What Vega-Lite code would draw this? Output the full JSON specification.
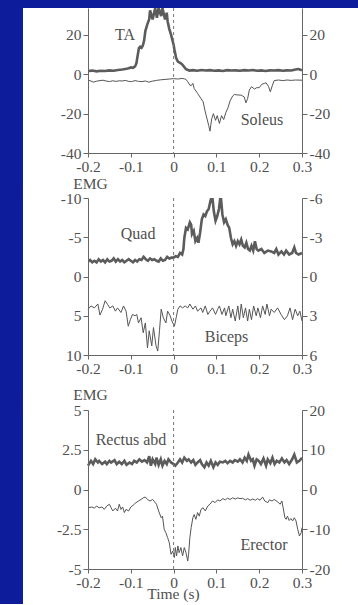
{
  "$schema": "https://vega.github.io/schema/vega-lite/v6.json",
  "background": "#0d1c9a",
  "padding": {"left": 22, "top": 7, "right": 0, "bottom": 0},
  "autosize": {"type": "pad"},
  "datasets": {
    "ta": [
      {"t": -0.2, "v": 1.6}, {"t": -0.19, "v": 1.9}, {"t": -0.18, "v": 1.5}, {"t": -0.17, "v": 1.8}, {"t": -0.16, "v": 1.7},
      {"t": -0.15, "v": 2.0}, {"t": -0.14, "v": 1.8}, {"t": -0.13, "v": 2.2}, {"t": -0.12, "v": 2.4}, {"t": -0.11, "v": 2.8},
      {"t": -0.105, "v": 3.1}, {"t": -0.1, "v": 3.5}, {"t": -0.095, "v": 3.3}, {"t": -0.09, "v": 4.0}, {"t": -0.087, "v": 5.5},
      {"t": -0.084, "v": 9.5}, {"t": -0.081, "v": 13.3}, {"t": -0.078, "v": 14.0}, {"t": -0.075, "v": 13.5}, {"t": -0.072, "v": 14.5},
      {"t": -0.069, "v": 17}, {"t": -0.066, "v": 22}, {"t": -0.062, "v": 25}, {"t": -0.057, "v": 28}, {"t": -0.055, "v": 32.5},
      {"t": -0.049, "v": 27.9}, {"t": -0.043, "v": 33.7}, {"t": -0.039, "v": 28.7}, {"t": -0.035, "v": 33.7}, {"t": -0.029, "v": 29.6},
      {"t": -0.026, "v": 33.7}, {"t": -0.02, "v": 27.9}, {"t": -0.016, "v": 31.3}, {"t": -0.014, "v": 27}, {"t": -0.01, "v": 23},
      {"t": -0.006, "v": 20.2}, {"t": 0.0, "v": 15}, {"t": 0.002, "v": 12.5}, {"t": 0.006, "v": 8.2}, {"t": 0.01, "v": 6.5},
      {"t": 0.017, "v": 5.6}, {"t": 0.021, "v": 4.8}, {"t": 0.029, "v": 2.6}, {"t": 0.037, "v": 1.9}, {"t": 0.045, "v": 2.1},
      {"t": 0.055, "v": 1.8}, {"t": 0.065, "v": 2.2}, {"t": 0.075, "v": 1.9}, {"t": 0.085, "v": 2.1}, {"t": 0.095, "v": 1.8},
      {"t": 0.105, "v": 2.0}, {"t": 0.115, "v": 1.7}, {"t": 0.125, "v": 2.1}, {"t": 0.135, "v": 1.9}, {"t": 0.145, "v": 2.0},
      {"t": 0.155, "v": 1.8}, {"t": 0.165, "v": 2.1}, {"t": 0.175, "v": 1.9}, {"t": 0.185, "v": 2.2}, {"t": 0.195, "v": 1.8},
      {"t": 0.205, "v": 2.0}, {"t": 0.215, "v": 1.7}, {"t": 0.225, "v": 2.0}, {"t": 0.235, "v": 1.9}, {"t": 0.245, "v": 2.1},
      {"t": 0.255, "v": 1.8}, {"t": 0.265, "v": 2.0}, {"t": 0.275, "v": 1.9}, {"t": 0.285, "v": 2.4}, {"t": 0.292, "v": 2.7},
      {"t": 0.3, "v": 2.0}
    ],
    "soleus": [
      {"t": -0.2, "v": -3.0}, {"t": -0.193, "v": -3.4}, {"t": -0.188, "v": -4.0}, {"t": -0.18, "v": -3.5}, {"t": -0.172, "v": -3.2},
      {"t": -0.165, "v": -3.0}, {"t": -0.158, "v": -3.4}, {"t": -0.15, "v": -3.7}, {"t": -0.142, "v": -3.3}, {"t": -0.135, "v": -3.6},
      {"t": -0.127, "v": -3.3}, {"t": -0.12, "v": -3.4}, {"t": -0.113, "v": -3.1}, {"t": -0.105, "v": -3.6}, {"t": -0.098, "v": -3.7},
      {"t": -0.09, "v": -3.2}, {"t": -0.082, "v": -3.6}, {"t": -0.074, "v": -3.7}, {"t": -0.066, "v": -3.4}, {"t": -0.058, "v": -4.0},
      {"t": -0.05, "v": -3.5}, {"t": -0.04, "v": -3.1}, {"t": -0.03, "v": -2.8}, {"t": -0.02, "v": -2.6}, {"t": -0.01, "v": -2.4},
      {"t": 0.0, "v": -2.2}, {"t": 0.01, "v": -2.4}, {"t": 0.02, "v": -2.1}, {"t": 0.025, "v": -2.3}, {"t": 0.029, "v": -2.6},
      {"t": 0.033, "v": -3.8}, {"t": 0.038, "v": -5.5}, {"t": 0.041, "v": -5.8}, {"t": 0.045, "v": -4.6}, {"t": 0.048, "v": -7.2},
      {"t": 0.056, "v": -9.7}, {"t": 0.064, "v": -12.3}, {"t": 0.069, "v": -14.0}, {"t": 0.074, "v": -19.1}, {"t": 0.077, "v": -21.7},
      {"t": 0.082, "v": -26.0}, {"t": 0.085, "v": -28.9}, {"t": 0.089, "v": -22.6}, {"t": 0.093, "v": -20.0}, {"t": 0.098, "v": -23.4},
      {"t": 0.102, "v": -21.0}, {"t": 0.107, "v": -25.0}, {"t": 0.112, "v": -21.0}, {"t": 0.117, "v": -23.0}, {"t": 0.122, "v": -19.5},
      {"t": 0.127, "v": -17.0}, {"t": 0.132, "v": -13.5}, {"t": 0.138, "v": -11.0}, {"t": 0.142, "v": -10.3}, {"t": 0.15, "v": -10.5},
      {"t": 0.158, "v": -10.6}, {"t": 0.165, "v": -11.5}, {"t": 0.169, "v": -14.5}, {"t": 0.173, "v": -12.3}, {"t": 0.177, "v": -8.0},
      {"t": 0.182, "v": -6.3}, {"t": 0.189, "v": -7.5}, {"t": 0.194, "v": -6.8}, {"t": 0.2, "v": -6.8}, {"t": 0.206, "v": -5.1},
      {"t": 0.212, "v": -4.6}, {"t": 0.216, "v": -4.3}, {"t": 0.222, "v": -6.3}, {"t": 0.226, "v": -8.9}, {"t": 0.231, "v": -5.5},
      {"t": 0.235, "v": -3.2}, {"t": 0.245, "v": -2.9}, {"t": 0.255, "v": -3.2}, {"t": 0.265, "v": -2.9}, {"t": 0.275, "v": -3.1},
      {"t": 0.285, "v": -2.9}, {"t": 0.3, "v": -3.0}
    ],
    "quad": [
      {"t": -0.2, "v": -1.9}, {"t": -0.195, "v": -2.1}, {"t": -0.19, "v": -1.8}, {"t": -0.185, "v": -2.0}, {"t": -0.18, "v": -1.8},
      {"t": -0.175, "v": -2.2}, {"t": -0.17, "v": -1.9}, {"t": -0.165, "v": -2.1}, {"t": -0.16, "v": -1.8}, {"t": -0.155, "v": -2.2},
      {"t": -0.15, "v": -1.9}, {"t": -0.145, "v": -2.0}, {"t": -0.14, "v": -2.3}, {"t": -0.135, "v": -1.9}, {"t": -0.13, "v": -2.2},
      {"t": -0.125, "v": -1.9}, {"t": -0.12, "v": -2.1}, {"t": -0.115, "v": -1.8}, {"t": -0.11, "v": -2.0}, {"t": -0.105, "v": -2.2},
      {"t": -0.1, "v": -2.0}, {"t": -0.095, "v": -1.8}, {"t": -0.09, "v": -2.1}, {"t": -0.085, "v": -1.9}, {"t": -0.08, "v": -2.2},
      {"t": -0.075, "v": -2.1}, {"t": -0.07, "v": -2.5}, {"t": -0.065, "v": -2.2}, {"t": -0.06, "v": -2.0}, {"t": -0.055, "v": -2.3},
      {"t": -0.05, "v": -2.1}, {"t": -0.045, "v": -2.2}, {"t": -0.04, "v": -2.0}, {"t": -0.035, "v": -1.9}, {"t": -0.03, "v": -2.3},
      {"t": -0.025, "v": -2.0}, {"t": -0.02, "v": -2.1}, {"t": -0.015, "v": -2.5}, {"t": -0.01, "v": -2.3}, {"t": -0.005, "v": -2.4},
      {"t": 0.0, "v": -2.4}, {"t": 0.005, "v": -2.6}, {"t": 0.01, "v": -2.5}, {"t": 0.015, "v": -3.0}, {"t": 0.02, "v": -2.8},
      {"t": 0.023, "v": -3.5}, {"t": 0.025, "v": -4.9}, {"t": 0.029, "v": -6.2}, {"t": 0.033, "v": -6.0}, {"t": 0.038, "v": -6.9},
      {"t": 0.041, "v": -6.6}, {"t": 0.043, "v": -5.4}, {"t": 0.047, "v": -5.8}, {"t": 0.051, "v": -4.5}, {"t": 0.055, "v": -4.9},
      {"t": 0.058, "v": -4.3}, {"t": 0.062, "v": -5.6}, {"t": 0.066, "v": -7.3}, {"t": 0.07, "v": -7.9}, {"t": 0.074, "v": -7.7},
      {"t": 0.078, "v": -8.3}, {"t": 0.082, "v": -8.6}, {"t": 0.086, "v": -9.6}, {"t": 0.09, "v": -10.4}, {"t": 0.094, "v": -8.3},
      {"t": 0.098, "v": -7.1}, {"t": 0.102, "v": -7.7}, {"t": 0.106, "v": -8.6}, {"t": 0.11, "v": -10.4}, {"t": 0.114, "v": -7.9},
      {"t": 0.118, "v": -6.9}, {"t": 0.122, "v": -7.3}, {"t": 0.126, "v": -6.6}, {"t": 0.13, "v": -6.2}, {"t": 0.134, "v": -4.9},
      {"t": 0.138, "v": -4.1}, {"t": 0.142, "v": -4.5}, {"t": 0.146, "v": -3.9}, {"t": 0.15, "v": -4.5}, {"t": 0.154, "v": -4.1},
      {"t": 0.158, "v": -4.7}, {"t": 0.162, "v": -3.9}, {"t": 0.166, "v": -3.7}, {"t": 0.17, "v": -4.3}, {"t": 0.174, "v": -3.5},
      {"t": 0.178, "v": -3.3}, {"t": 0.182, "v": -3.9}, {"t": 0.186, "v": -3.3}, {"t": 0.19, "v": -4.5}, {"t": 0.194, "v": -3.5},
      {"t": 0.198, "v": -3.3}, {"t": 0.205, "v": -3.5}, {"t": 0.212, "v": -3.0}, {"t": 0.22, "v": -3.3}, {"t": 0.228, "v": -3.2},
      {"t": 0.235, "v": -3.0}, {"t": 0.24, "v": -3.5}, {"t": 0.245, "v": -2.8}, {"t": 0.252, "v": -3.2}, {"t": 0.258, "v": -2.8},
      {"t": 0.263, "v": -3.3}, {"t": 0.27, "v": -2.8}, {"t": 0.277, "v": -3.0}, {"t": 0.282, "v": -3.7}, {"t": 0.286, "v": -3.0},
      {"t": 0.292, "v": -2.8}, {"t": 0.3, "v": -3.0}
    ],
    "biceps": [
      {"t": -0.2, "v": 2.5}, {"t": -0.193, "v": 2.25}, {"t": -0.185, "v": 2.4}, {"t": -0.177, "v": 2.1}, {"t": -0.172, "v": 2.95},
      {"t": -0.166, "v": 2.5}, {"t": -0.16, "v": 1.85}, {"t": -0.154, "v": 2.15}, {"t": -0.149, "v": 2.4}, {"t": -0.142, "v": 2.25},
      {"t": -0.136, "v": 2.65}, {"t": -0.131, "v": 2.4}, {"t": -0.123, "v": 2.75}, {"t": -0.117, "v": 2.25}, {"t": -0.111, "v": 2.65},
      {"t": -0.106, "v": 3.8}, {"t": -0.101, "v": 3.3}, {"t": -0.096, "v": 2.9}, {"t": -0.09, "v": 3.0}, {"t": -0.086, "v": 2.9},
      {"t": -0.082, "v": 3.55}, {"t": -0.076, "v": 3.15}, {"t": -0.071, "v": 4.3}, {"t": -0.066, "v": 3.55}, {"t": -0.061, "v": 5.45},
      {"t": -0.057, "v": 4.15}, {"t": -0.051, "v": 5.3}, {"t": -0.047, "v": 3.9}, {"t": -0.041, "v": 5.3}, {"t": -0.037, "v": 5.7},
      {"t": -0.033, "v": 4.15}, {"t": -0.029, "v": 2.5}, {"t": -0.024, "v": 3.15}, {"t": -0.018, "v": 3.55}, {"t": -0.014, "v": 2.65},
      {"t": -0.008, "v": 3.0}, {"t": -0.004, "v": 3.4}, {"t": 0.002, "v": 3.8}, {"t": 0.006, "v": 3.15}, {"t": 0.01, "v": 2.5},
      {"t": 0.015, "v": 2.25}, {"t": 0.021, "v": 2.4}, {"t": 0.027, "v": 2.25}, {"t": 0.033, "v": 2.4}, {"t": 0.038, "v": 2.1},
      {"t": 0.045, "v": 2.5}, {"t": 0.051, "v": 2.25}, {"t": 0.056, "v": 2.65}, {"t": 0.064, "v": 2.4}, {"t": 0.068, "v": 2.75},
      {"t": 0.074, "v": 2.25}, {"t": 0.08, "v": 2.9}, {"t": 0.085, "v": 2.65}, {"t": 0.091, "v": 2.4}, {"t": 0.098, "v": 2.9},
      {"t": 0.103, "v": 2.5}, {"t": 0.107, "v": 2.25}, {"t": 0.113, "v": 2.9}, {"t": 0.119, "v": 2.4}, {"t": 0.122, "v": 3.0},
      {"t": 0.129, "v": 2.25}, {"t": 0.134, "v": 3.15}, {"t": 0.138, "v": 2.5}, {"t": 0.144, "v": 3.4}, {"t": 0.15, "v": 2.25},
      {"t": 0.154, "v": 3.3}, {"t": 0.158, "v": 2.1}, {"t": 0.163, "v": 3.15}, {"t": 0.168, "v": 2.4}, {"t": 0.173, "v": 3.4},
      {"t": 0.177, "v": 2.5}, {"t": 0.182, "v": 3.3}, {"t": 0.187, "v": 2.25}, {"t": 0.193, "v": 3.0}, {"t": 0.197, "v": 2.4},
      {"t": 0.203, "v": 3.15}, {"t": 0.208, "v": 2.25}, {"t": 0.214, "v": 2.9}, {"t": 0.218, "v": 2.1}, {"t": 0.224, "v": 3.0},
      {"t": 0.228, "v": 2.5}, {"t": 0.235, "v": 2.75}, {"t": 0.243, "v": 2.4}, {"t": 0.251, "v": 2.9}, {"t": 0.259, "v": 3.3},
      {"t": 0.266, "v": 3.0}, {"t": 0.272, "v": 2.4}, {"t": 0.278, "v": 3.3}, {"t": 0.284, "v": 2.5}, {"t": 0.29, "v": 3.0},
      {"t": 0.295, "v": 2.65}, {"t": 0.3, "v": 3.4}
    ],
    "rectus": [
      {"t": -0.2, "v": 1.5}, {"t": -0.193, "v": 1.8}, {"t": -0.188, "v": 1.6}, {"t": -0.183, "v": 1.9}, {"t": -0.177, "v": 1.7},
      {"t": -0.174, "v": 1.8}, {"t": -0.167, "v": 1.6}, {"t": -0.16, "v": 1.75}, {"t": -0.156, "v": 1.6}, {"t": -0.15, "v": 1.8},
      {"t": -0.146, "v": 1.7}, {"t": -0.138, "v": 1.85}, {"t": -0.133, "v": 1.6}, {"t": -0.127, "v": 1.75}, {"t": -0.121, "v": 1.6},
      {"t": -0.115, "v": 1.8}, {"t": -0.11, "v": 1.55}, {"t": -0.103, "v": 1.7}, {"t": -0.097, "v": 1.6}, {"t": -0.092, "v": 1.8},
      {"t": -0.086, "v": 1.7}, {"t": -0.08, "v": 1.9}, {"t": -0.074, "v": 1.75}, {"t": -0.068, "v": 1.85}, {"t": -0.062, "v": 1.7},
      {"t": -0.057, "v": 2.1}, {"t": -0.053, "v": 1.5}, {"t": -0.049, "v": 1.9}, {"t": -0.043, "v": 1.6}, {"t": -0.04, "v": 2.0},
      {"t": -0.035, "v": 1.55}, {"t": -0.03, "v": 1.9}, {"t": -0.026, "v": 1.5}, {"t": -0.021, "v": 1.8}, {"t": -0.016, "v": 1.6},
      {"t": -0.012, "v": 1.9}, {"t": -0.006, "v": 1.7}, {"t": 0.0, "v": 1.6}, {"t": 0.004, "v": 1.5}, {"t": 0.01, "v": 1.7},
      {"t": 0.015, "v": 1.9}, {"t": 0.02, "v": 1.7}, {"t": 0.025, "v": 2.0}, {"t": 0.031, "v": 1.8}, {"t": 0.035, "v": 1.9},
      {"t": 0.041, "v": 1.7}, {"t": 0.046, "v": 1.85}, {"t": 0.051, "v": 1.55}, {"t": 0.056, "v": 1.7}, {"t": 0.062, "v": 1.85},
      {"t": 0.066, "v": 1.6}, {"t": 0.072, "v": 1.4}, {"t": 0.077, "v": 1.7}, {"t": 0.082, "v": 1.5}, {"t": 0.087, "v": 1.8},
      {"t": 0.093, "v": 1.4}, {"t": 0.098, "v": 1.7}, {"t": 0.103, "v": 1.55}, {"t": 0.108, "v": 1.75}, {"t": 0.115, "v": 1.7},
      {"t": 0.121, "v": 1.8}, {"t": 0.126, "v": 1.65}, {"t": 0.132, "v": 1.8}, {"t": 0.138, "v": 1.7}, {"t": 0.143, "v": 1.85},
      {"t": 0.15, "v": 1.75}, {"t": 0.155, "v": 1.9}, {"t": 0.161, "v": 1.7}, {"t": 0.166, "v": 2.0}, {"t": 0.171, "v": 1.8},
      {"t": 0.175, "v": 2.2}, {"t": 0.181, "v": 1.8}, {"t": 0.185, "v": 1.9}, {"t": 0.189, "v": 1.5}, {"t": 0.194, "v": 1.9},
      {"t": 0.199, "v": 1.8}, {"t": 0.204, "v": 1.6}, {"t": 0.21, "v": 1.95}, {"t": 0.216, "v": 1.5}, {"t": 0.22, "v": 1.9},
      {"t": 0.226, "v": 1.65}, {"t": 0.231, "v": 2.0}, {"t": 0.236, "v": 1.6}, {"t": 0.241, "v": 1.8}, {"t": 0.247, "v": 1.7},
      {"t": 0.253, "v": 1.95}, {"t": 0.259, "v": 1.7}, {"t": 0.264, "v": 1.85}, {"t": 0.27, "v": 1.6}, {"t": 0.277, "v": 1.9},
      {"t": 0.282, "v": 2.2}, {"t": 0.288, "v": 1.7}, {"t": 0.294, "v": 1.8}, {"t": 0.3, "v": 2.0}
    ],
    "erector": [
      {"t": -0.2, "v": -4.6}, {"t": -0.191, "v": -4.4}, {"t": -0.185, "v": -4.7}, {"t": -0.18, "v": -4.15}, {"t": -0.174, "v": -4.6},
      {"t": -0.167, "v": -4.4}, {"t": -0.162, "v": -5.0}, {"t": -0.156, "v": -4.15}, {"t": -0.15, "v": -3.7}, {"t": -0.146, "v": -4.6},
      {"t": -0.142, "v": -5.4}, {"t": -0.136, "v": -4.7}, {"t": -0.131, "v": -5.4}, {"t": -0.127, "v": -3.7}, {"t": -0.123, "v": -5.0},
      {"t": -0.119, "v": -4.4}, {"t": -0.115, "v": -5.8}, {"t": -0.111, "v": -5.0}, {"t": -0.105, "v": -5.4}, {"t": -0.1, "v": -4.4},
      {"t": -0.094, "v": -3.9}, {"t": -0.088, "v": -3.3}, {"t": -0.082, "v": -2.9}, {"t": -0.076, "v": -2.5}, {"t": -0.071, "v": -2.1},
      {"t": -0.066, "v": -1.9}, {"t": -0.061, "v": -2.5}, {"t": -0.055, "v": -2.9}, {"t": -0.049, "v": -2.5}, {"t": -0.043, "v": -3.3},
      {"t": -0.04, "v": -3.7}, {"t": -0.035, "v": -5.4}, {"t": -0.029, "v": -7.1}, {"t": -0.026, "v": -6.7}, {"t": -0.022, "v": -10.0},
      {"t": -0.018, "v": -10.9}, {"t": -0.014, "v": -12.1}, {"t": -0.01, "v": -13.4}, {"t": -0.006, "v": -16.3}, {"t": -0.002, "v": -15.5},
      {"t": 0.002, "v": -17.1}, {"t": 0.004, "v": -14.6}, {"t": 0.007, "v": -16.7}, {"t": 0.01, "v": -14.2}, {"t": 0.013, "v": -15.9},
      {"t": 0.017, "v": -14.6}, {"t": 0.021, "v": -16.7}, {"t": 0.025, "v": -14.6}, {"t": 0.029, "v": -15.9}, {"t": 0.033, "v": -18.0},
      {"t": 0.035, "v": -16.3}, {"t": 0.038, "v": -12.1}, {"t": 0.041, "v": -9.6}, {"t": 0.045, "v": -7.1}, {"t": 0.048, "v": -6.3},
      {"t": 0.052, "v": -7.5}, {"t": 0.056, "v": -5.8}, {"t": 0.06, "v": -6.7}, {"t": 0.064, "v": -5.0}, {"t": 0.069, "v": -4.6},
      {"t": 0.074, "v": -5.4}, {"t": 0.08, "v": -4.15}, {"t": 0.085, "v": -3.7}, {"t": 0.091, "v": -2.9}, {"t": 0.097, "v": -3.3},
      {"t": 0.103, "v": -2.6}, {"t": 0.108, "v": -2.9}, {"t": 0.115, "v": -2.3}, {"t": 0.121, "v": -2.6}, {"t": 0.126, "v": -2.2},
      {"t": 0.132, "v": -2.5}, {"t": 0.138, "v": -2.1}, {"t": 0.144, "v": -2.4}, {"t": 0.15, "v": -2.1}, {"t": 0.155, "v": -2.3},
      {"t": 0.161, "v": -2.2}, {"t": 0.168, "v": -2.6}, {"t": 0.173, "v": -2.3}, {"t": 0.179, "v": -2.7}, {"t": 0.185, "v": -2.4},
      {"t": 0.191, "v": -2.7}, {"t": 0.196, "v": -2.3}, {"t": 0.202, "v": -2.7}, {"t": 0.208, "v": -1.9}, {"t": 0.213, "v": -2.9},
      {"t": 0.22, "v": -3.3}, {"t": 0.224, "v": -2.6}, {"t": 0.23, "v": -2.9}, {"t": 0.235, "v": -2.5}, {"t": 0.243, "v": -3.1},
      {"t": 0.249, "v": -3.7}, {"t": 0.253, "v": -2.9}, {"t": 0.256, "v": -4.6}, {"t": 0.26, "v": -7.1}, {"t": 0.263, "v": -7.5},
      {"t": 0.266, "v": -6.7}, {"t": 0.27, "v": -7.8}, {"t": 0.274, "v": -7.3}, {"t": 0.278, "v": -7.9}, {"t": 0.282, "v": -7.1},
      {"t": 0.286, "v": -7.9}, {"t": 0.29, "v": -10.0}, {"t": 0.294, "v": -11.7}, {"t": 0.298, "v": -10.9}, {"t": 0.3, "v": -9.6}
    ]
  },
  "vconcat": [
    {
      "width": 214,
      "height": 145,
      "encoding": {
        "x": {"field": "t", "type": "quantitative", "scale": {"domain": [-0.2, 0.3], "nice": false, "zero": false},
          "axis": {"values": [-0.2, -0.1, 0, 0.1, 0.2, 0.3], "title": null, "tickSize": 4, "zindex": 1, "labelExpr": "replace(format(datum.value, '.1~f'), '\u2212', '-')"}}
      },
      "layer": [
        {
          "encoding": {
            "y": {"field": "v", "type": "quantitative", "scale": {"domain": [-40, 33.7], "nice": false, "zero": false},
              "axis": {"orient": "left", "values": [-40, -20, 0, 20], "title": null, "zindex": 1, "labelExpr": "replace(format(datum.value, '~g'), '\u2212', '-')"}}
          },
          "layer": [
            {"data": {"values": [{"t": -0.3519, "t2": 0.4332, "v": 33.7, "v2": -62.822}]}, "mark": {"type": "rect", "color": "white"},
              "encoding": {"x2": {"field": "t2"}, "y2": {"field": "v2"}}},
            {"data": {"name": "ta"}, "mark": {"type": "line", "color": "#5c5c5c", "strokeWidth": 2.6, "clip": true}, "encoding": {}},
            {"data": {"values": [{"t": -0.1136, "v": 20, "label": "TA"}, {"t": 0.2065, "v": -23.2, "label": "Soleus"}]},
              "mark": {"type": "text", "font": "Liberation Serif", "fontSize": 16, "color": "#505050", "align": "center", "baseline": "middle"},
              "encoding": {"text": {"field": "label"}}}
          ]
        },
        {"data": {"name": "soleus"}, "mark": {"type": "line", "color": "#555555", "strokeWidth": 1},
          "encoding": {"y": {"field": "v", "type": "quantitative", "scale": {"domain": [-40, 33.7], "nice": false, "zero": false},
            "axis": {"orient": "right", "values": [-40, -20, 0, 20], "title": null, "zindex": 1, "labelExpr": "replace(format(datum.value, '~g'), '\u2212', '-')"}}}},
        {"data": {"values": [{"t": 0}]}, "mark": {"type": "rule", "strokeDash": [3, 3], "color": "#777777", "strokeWidth": 1}, "encoding": {}}
      ],
      "resolve": {"scale": {"y": "independent"}}
    },
    {
      "width": 214,
      "height": 157,
      "encoding": {
        "x": {"field": "t", "type": "quantitative", "scale": {"domain": [-0.2, 0.3], "nice": false, "zero": false},
          "axis": {"values": [-0.2, -0.1, 0, 0.1, 0.2, 0.3], "title": null, "tickSize": 4, "zindex": 1, "labelExpr": "replace(format(datum.value, '.1~f'), '\u2212', '-')"}}
      },
      "layer": [
        {
          "encoding": {
            "y": {"field": "v", "type": "quantitative", "scale": {"domain": [-10, 10], "reverse": true, "nice": false, "zero": false},
              "axis": {"orient": "left", "values": [-10, -5, 0, 5, 10], "title": "EMG", "titleAngle": 0, "titleX": 2, "titleY": -15, "titleAlign": "center", "titleBaseline": "middle", "zindex": 1,
                "labelExpr": "replace(format(datum.value, '~g'), '\u2212', '-')"}}
          },
          "layer": [
            {"data": {"values": [{"t": -0.3519, "t2": 0.4332, "v": -11.529, "v2": 16.994}]}, "mark": {"type": "rect", "color": "white"},
              "encoding": {"x2": {"field": "t2"}, "y2": {"field": "v2"}}},
            {"data": {"name": "quad"}, "mark": {"type": "line", "color": "#5c5c5c", "strokeWidth": 2.6, "clip": true}, "encoding": {}},
            {"data": {"values": [{"t": -0.083, "v": -5.41, "label": "Quad"}, {"t": 0.1236, "v": 7.67, "label": "Biceps"}]},
              "mark": {"type": "text", "font": "Liberation Serif", "fontSize": 16, "color": "#505050", "align": "center", "baseline": "middle"},
              "encoding": {"text": {"field": "label"}}}
          ]
        },
        {"data": {"name": "biceps"}, "mark": {"type": "line", "color": "#555555", "strokeWidth": 1},
          "encoding": {"y": {"field": "v", "type": "quantitative", "scale": {"domain": [-6, 6], "reverse": true, "nice": false, "zero": false},
            "axis": {"orient": "right", "values": [-6, -3, 0, 3, 6], "title": null, "zindex": 1, "labelExpr": "replace(format(datum.value, '~g'), '\u2212', '-')"}}}},
        {"data": {"values": [{"t": 0}]}, "mark": {"type": "rule", "strokeDash": [3, 3], "color": "#777777", "strokeWidth": 1}, "encoding": {}}
      ],
      "resolve": {"scale": {"y": "independent"}}
    },
    {
      "width": 214,
      "height": 159,
      "encoding": {
        "x": {"field": "t", "type": "quantitative", "scale": {"domain": [-0.2, 0.3], "nice": false, "zero": false},
          "axis": {"values": [-0.2, -0.1, 0, 0.1, 0.2, 0.3], "title": "Time (s)", "titleX": 85, "titleY": 24, "titleAlign": "center", "titleBaseline": "middle", "tickSize": 4, "zindex": 1,
            "labelExpr": "replace(format(datum.value, '.1~f'), '\u2212', '-')"}}
      },
      "layer": [
        {
          "encoding": {
            "y": {"field": "v", "type": "quantitative", "scale": {"domain": [-5, 5], "nice": false, "zero": false},
              "axis": {"orient": "left", "values": [-5, -2.5, 0, 2.5, 5], "title": "EMG", "titleAngle": 0, "titleX": 2, "titleY": -16, "titleAlign": "center", "titleBaseline": "middle", "zindex": 1,
                "labelExpr": "replace(format(datum.value, '~g'), '\u2212', '-')"}}
          },
          "layer": [
            {"data": {"values": [{"t": -0.3519, "t2": 0.4332, "v": 5.755, "v2": -7.201}]}, "mark": {"type": "rect", "color": "white"},
              "encoding": {"x2": {"field": "t2"}, "y2": {"field": "v2"}}},
            {"data": {"name": "rectus"}, "mark": {"type": "line", "color": "#5c5c5c", "strokeWidth": 2.6}, "encoding": {}},
            {"data": {"values": [{"t": -0.0995, "v": 3.11, "label": "Rectus abd"}, {"t": 0.211, "v": -3.51, "label": "Erector"}]},
              "mark": {"type": "text", "font": "Liberation Serif", "fontSize": 16, "color": "#505050", "align": "center", "baseline": "middle"},
              "encoding": {"text": {"field": "label"}}}
          ]
        },
        {"data": {"name": "erector"}, "mark": {"type": "line", "color": "#555555", "strokeWidth": 1},
          "encoding": {"y": {"field": "v", "type": "quantitative", "scale": {"domain": [-20, 20], "nice": false, "zero": false},
            "axis": {"orient": "right", "values": [-20, -10, 0, 10, 20], "title": null, "zindex": 1, "labelExpr": "replace(format(datum.value, '~g'), '\u2212', '-')"}}}},
        {"data": {"values": [{"t": 0}]}, "mark": {"type": "rule", "strokeDash": [3, 3], "color": "#777777", "strokeWidth": 1}, "encoding": {}}
      ],
      "resolve": {"scale": {"y": "independent"}}
    }
  ],
  "spacing": -30,
  "config": {
    "view": {"stroke": null},
    "axis": {
      "grid": false, "domainColor": "#666666", "tickColor": "#666666", "labelColor": "#505050",
      "labelFont": "Liberation Serif", "labelFontSize": 15.5, "titleFont": "Liberation Serif", "titleFontSize": 15.5,
      "titleColor": "#505050", "titleFontWeight": "normal", "tickSize": 5, "labelPadding": 2,
      "domainWidth": 1, "tickWidth": 1, "labelFlush": false, "labelOverlap": false
    }
  }
}
